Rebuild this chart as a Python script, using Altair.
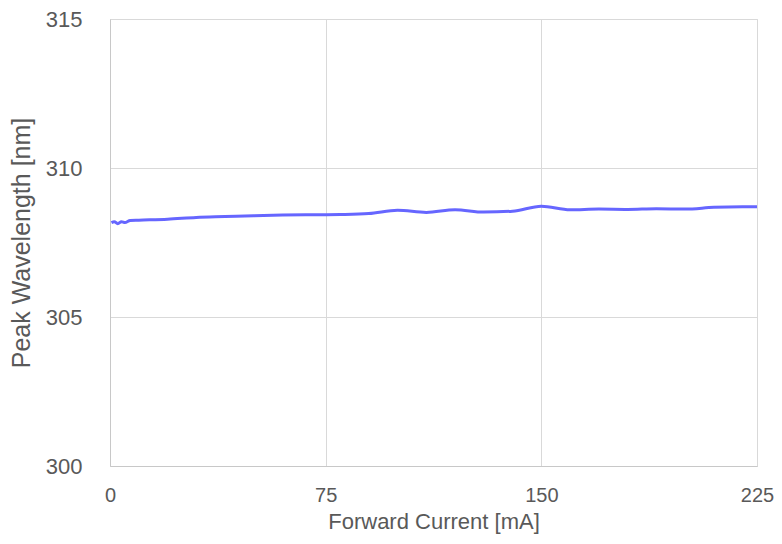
import altair as alt
import pandas as pd

current_ma = [0.5, 1.5, 2.7, 4, 5.2, 7, 10, 20, 30, 40, 50, 60, 70, 80, 90, 100,
              110, 120, 130, 140, 150, 160, 170, 180, 190, 200, 210, 220, 225]
peak_nm = [308.17, 308.20, 308.13, 308.20, 308.17, 308.24, 308.25, 308.28, 308.34,
           308.37, 308.40, 308.42, 308.43, 308.44, 308.47, 308.58, 308.51, 308.60,
           308.52, 308.55, 308.72, 308.60, 308.62, 308.61, 308.63, 308.62, 308.68,
           308.70, 308.70]
x_ticks = [0, 75, 150, 225]
y_ticks = [300, 305, 310, 315]

df = pd.DataFrame({"current": current_ma, "peak": peak_nm})

FONT = "Liberation Sans"
GREY = "#595959"

chart = alt.Chart(df).mark_line(
    color="#6666FF", strokeWidth=3, interpolate="monotone"
).encode(
    x=alt.X("current:Q", scale=alt.Scale(domain=[0, 225], nice=False, zero=False),
            axis=alt.Axis(values=x_ticks, title="Forward Current [mA]",
                          labelFontSize=20, labelColor=GREY, labelPadding=19,
                          labelFlush=False,
                          titleFontSize=22, titleColor=GREY, titleFontWeight="normal",
                          titleY=45, titleBaseline="top",
                          ticks=False, domainColor="#c8c8c8", gridColor="#d9d9d9",
                          labelFont=FONT, titleFont=FONT)),
    y=alt.Y("peak:Q", scale=alt.Scale(domain=[300, 315], nice=False, zero=False),
            axis=alt.Axis(values=y_ticks, title="Peak Wavelength [nm]",
                          labelFontSize=22, labelColor=GREY, labelPadding=28,
                          labelFlush=False,
                          titleFontSize=25, titleColor=GREY, titleFontWeight="normal",
                          titleX=-76, titleBaseline="bottom",
                          ticks=False, domainColor="#c8c8c8", gridColor="#d9d9d9",
                          labelFont=FONT, titleFont=FONT)),
).properties(
    width=647, height=447,
    autosize=alt.AutoSizeParams(type="none"),
    padding={"left": 102, "top": 11, "right": 17, "bottom": 70},
).configure_view(
    stroke="#d9d9d9", strokeWidth=1
).configure(background="white")

chart.save("out.html", embed_options={"renderer": "svg", "actions": False})
